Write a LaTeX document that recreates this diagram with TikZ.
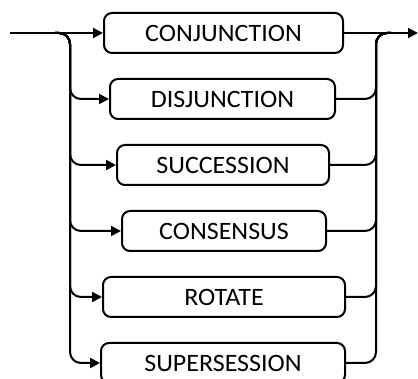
\documentclass[tikz,border=0pt]{standalone}
\usepackage{fontspec}
\setmainfont{Carlito}[FakeStretch=1.04]
\usepackage{tikz}
\usetikzlibrary{arrows.meta}
\tikzstyle{term}=[draw, line width=2pt, rounded corners=8pt, minimum height=40pt, inner sep=0pt, font=\fontsize{25}{28}\selectfont]
\tikzstyle{rail}=[line width=2pt, rounded corners=11pt]
\tikzstyle{drail}=[rail,-{Triangle[length=10pt,width=10pt]}]

\begin{document}
\begin{tikzpicture}[x=1pt,y=-1pt]
	\useasboundingbox (0,0) rectangle (418,379);
	\coordinate (in) at (10,33);
	\coordinate (fork) at (70,33);
	\coordinate (join) at (376,33);
	\coordinate (out) at (418,33);

	\node[term,minimum width=239pt] (conj) at (223.5,33) {CONJUNCTION};
	\node[term,minimum width=225pt] (disj) at (222.5,99) {DISJUNCTION};
	\node[term,minimum width=212pt] (succ) at (223,165) {SUCCESSION};
	\node[term,minimum width=204pt] (cons) at (224,231) {CONSENSUS};
	\node[term,minimum width=242pt] (rot) at (224,297) {ROTATE};
	\node[term,minimum width=244pt] (super) at (223,363) {SUPERSESSION};

	\draw[drail] (in) -- (conj.west);
	\draw[drail] (conj.east) -- (out);
	\foreach \t in {disj,succ,cons,rot,super}{
		\draw[drail] ([xshift=-15pt]fork) -- (fork) |- (\t.west);
		\draw[rail] (\t.east) -| (join) -- ([xshift=15pt]join);
	}
\end{tikzpicture}
\end{document}
